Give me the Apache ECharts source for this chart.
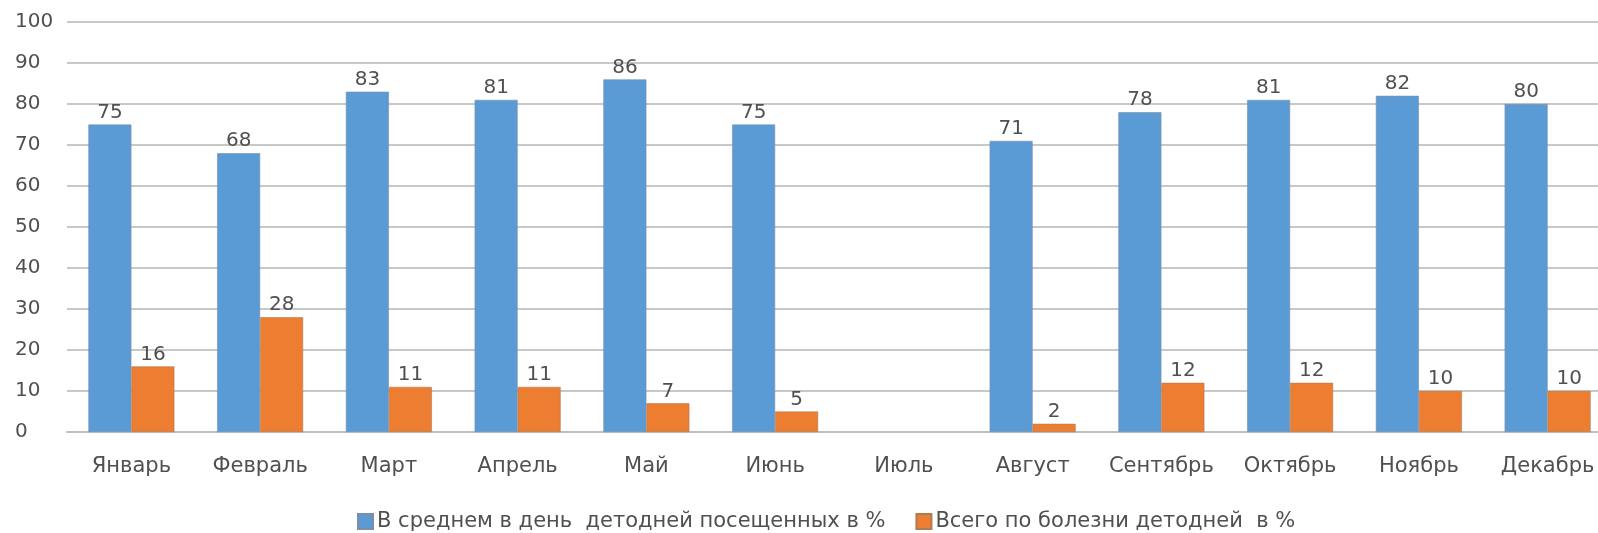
<!DOCTYPE html>
<html><head><meta charset="utf-8">
<script src="https://cdn.jsdelivr.net/npm/echarts@6/dist/echarts.min.js"></script>
<style>html,body{margin:0;padding:0;background:#fff}#c{width:1598px;height:533px}</style>
</head><body><div id="c"></div>
<script>
const categories = ['Январь','Февраль','Март','Апрель','Май','Июнь','Июль','Август','Сентябрь','Октябрь','Ноябрь','Декабрь'];
const visited = [75,68,83,81,86,75,null,71,78,81,82,80];
const sick = [16,28,11,11,7,5,null,2,12,12,10,10];
const seriesNames = ['В среднем в день  детодней посещенных в %','Всего по болезни детодней  в %'];
const yTicks = {min:0,max:100,interval:10};

const chart = echarts.init(document.getElementById('c'));
const font = 'DejaVu Sans, Arial, sans-serif';
const txt = '#505050';
const lbl = {show:true,position:'top',color:txt,fontSize:20,fontFamily:font,distance:2};
chart.setOption({
  animation:false,
  grid:{left:67,top:22,width:1545,bottom:101,containLabel:false,outerBoundsMode:'none'},
  legend:{top:506,left:352,itemWidth:15,itemHeight:15,itemGap:30,icon:'rect',
    textStyle:{fontSize:21,color:txt,fontFamily:font,padding:[0,0,0,-1]},data:seriesNames},
  xAxis:{type:'category',data:categories,
    axisLine:{lineStyle:{color:'#bfbfbf',width:2}},axisTick:{show:false},
    axisLabel:{color:txt,fontSize:21,fontFamily:font,margin:24,interval:0,hideOverlap:false}},
  yAxis:{type:'value',min:yTicks.min,max:yTicks.max,interval:yTicks.interval,
    axisLine:{show:false},axisTick:{show:false},
    splitLine:{lineStyle:{color:'#c8c8c8',width:2}},
    axisLabel:{color:txt,fontSize:20,fontFamily:font,margin:52,align:'left'}},
  series:[
    {name:seriesNames[0],type:'bar',data:visited,barWidth:43,barGap:'0%',
      itemStyle:{color:'#5B9BD5',borderColor:'#7a8fa6',borderWidth:0.6},label:lbl},
    {name:seriesNames[1],type:'bar',data:sick,barWidth:43,
      itemStyle:{color:'#ED7D31',borderColor:'#b07a55',borderWidth:0.6},label:lbl}
  ]
});
</script></body></html>
